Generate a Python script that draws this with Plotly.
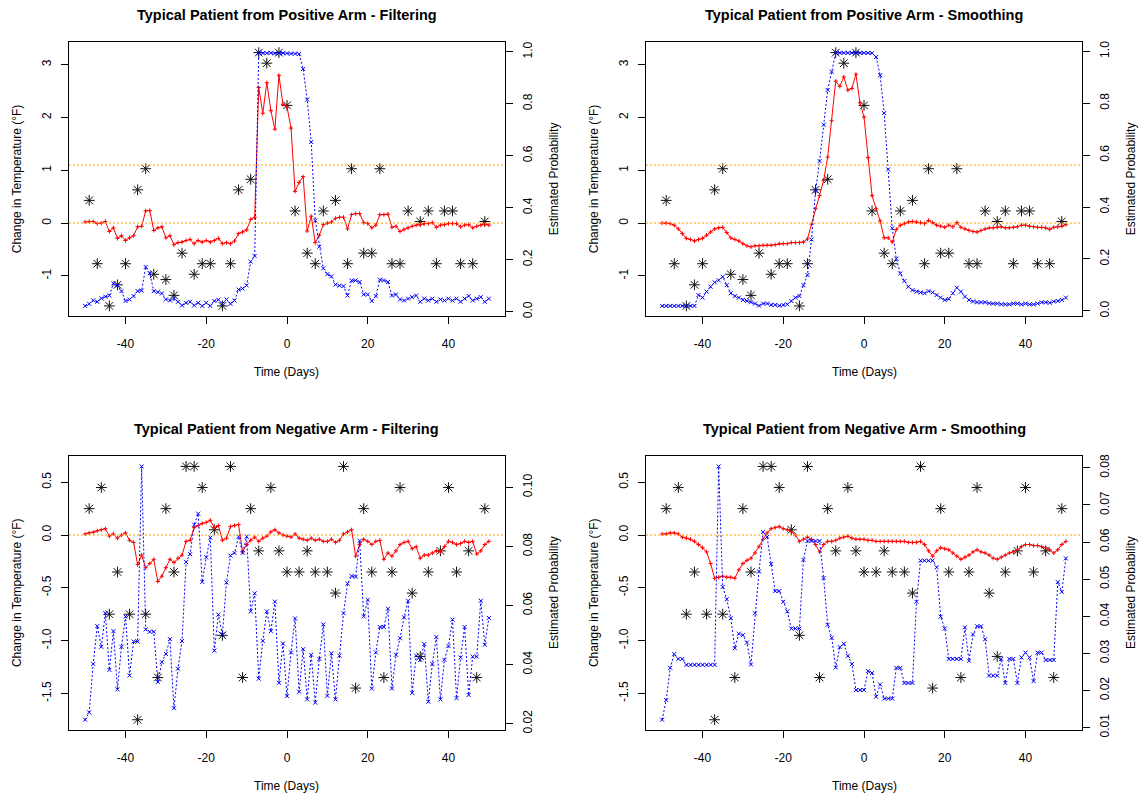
import numpy as np
import plotly.graph_objects as go
from plotly.subplots import make_subplots

# ---------------- data ----------------
days = np.arange(-50, 51)

pos_obs_days = [-49, -47, -44, -42, -40, -37, -35, -33, -30, -28, -26, -23, -21, -19, -16, -14,
                -12, -9, -7, -5, -2, 0, 2, 5, 7, 9, 12, 15, 16, 19, 21, 23, 26, 28, 30, 33,
                35, 37, 39, 41, 43, 46, 49]
pos_obs_temp = [0.43, -0.77, -1.57, -1.17, -0.77, 0.63, 1.03, -0.97, -1.07, -1.37, -0.57, -0.97,
                -0.77, -0.77, -1.57, -0.77, 0.63, 0.83, 3.23, 3.03, 3.23, 2.23, 0.23, -0.57,
                -0.77, 0.23, 0.43, -0.77, 1.03, -0.57, -0.57, 1.03, -0.77, -0.77, 0.23, 0.03,
                0.23, -0.77, 0.23, 0.23, -0.77, -0.77, 0.03]

neg_obs_days = [-49, -46, -44, -42, -39, -37, -35, -32, -30, -28, -25, -23, -21, -18, -16, -14,
                -11, -9, -7, -4, -2, 0, 3, 5, 7, 10, 12, 14, 17, 19, 21, 24, 26, 28, 31, 33,
                35, 38, 40, 42, 45, 47, 49]
neg_obs_temp = [0.25, 0.45, -0.75, -0.35, -0.75, -1.75, -0.75, -1.35, 0.25, -0.35, 0.65, 0.65,
                0.45, 0.05, -0.95, 0.65, -1.35, 0.25, -0.15, 0.45, -0.15, -0.35, -0.35, -0.15,
                -0.35, -0.35, -0.55, 0.65, -1.45, 0.25, -0.35, -1.35, -0.35, 0.45, -0.55, -1.15,
                -0.35, -0.15, 0.45, -0.35, -0.15, -1.35, 0.25]

pos_filter_temp = [0.02, 0.03, 0.03, -0.01, 0.00, 0.03, -0.16, -0.09, -0.29, -0.24,
                   -0.33, -0.28, -0.24, -0.07, -0.06, 0.23, 0.24, -0.14, -0.09, -0.07,
                   -0.28, -0.24, -0.41, -0.37, -0.36, -0.33, -0.31, -0.39, -0.33, -0.36,
                   -0.33, -0.36, -0.33, -0.29, -0.39, -0.37, -0.39, -0.34, -0.20, -0.17,
                   -0.13, 0.07, 0.11, 2.57, 2.08, 2.66, 2.13, 1.78, 2.80, 2.25,
                   2.20, 1.80, 0.60, 0.77, 0.88, -0.15, 0.13, -0.37, -0.23, -0.03,
                   0.00, 0.02, 0.09, 0.11, 0.11, -0.11, 0.16, 0.18, 0.18, 0.01,
                   -0.01, -0.09, -0.04, 0.16, 0.16, 0.17, -0.08, -0.06, -0.16, -0.12,
                   -0.09, -0.06, -0.04, -0.03, -0.01, -0.01, 0.01, -0.08, -0.04, -0.03,
                   -0.01, -0.01, -0.01, -0.07, -0.04, -0.03, -0.09, -0.06, -0.04, -0.02,
                   -0.04]
pos_filter_prob = [0.022, 0.030, 0.043, 0.038, 0.051, 0.058, 0.062, 0.109, 0.101, 0.079,
                   0.041, 0.047, 0.060, 0.079, 0.081, 0.172, 0.148, 0.079, 0.075, 0.070,
                   0.047, 0.043, 0.051, 0.038, 0.024, 0.034, 0.038, 0.024, 0.034, 0.022,
                   0.034, 0.022, 0.041, 0.046, 0.030, 0.047, 0.030, 0.043, 0.085, 0.089,
                   0.101, 0.193, 0.214, 0.997, 0.995, 0.995, 0.996, 0.994, 0.995, 0.995,
                   0.994, 0.993, 0.993, 0.992, 0.934, 0.816, 0.653, 0.351, 0.250, 0.167,
                   0.144, 0.136, 0.104, 0.100, 0.098, 0.062, 0.120, 0.120, 0.114, 0.066,
                   0.066, 0.041, 0.060, 0.123, 0.120, 0.114, 0.062, 0.066, 0.047, 0.043,
                   0.050, 0.056, 0.062, 0.038, 0.050, 0.043, 0.050, 0.038, 0.047, 0.043,
                   0.050, 0.043, 0.050, 0.038, 0.050, 0.060, 0.043, 0.050, 0.056, 0.038,
                   0.050]

pos_smooth_temp = [0.00, 0.00, -0.01, -0.04, -0.11, -0.20, -0.29, -0.31, -0.34, -0.31,
                   -0.29, -0.23, -0.17, -0.11, -0.09, -0.08, -0.18, -0.28, -0.31, -0.34,
                   -0.39, -0.43, -0.45, -0.43, -0.43, -0.42, -0.42, -0.42, -0.41, -0.39,
                   -0.39, -0.39, -0.37, -0.37, -0.37, -0.36, -0.30, -0.02, 0.27, 0.52,
                   0.81, 1.25, 1.94, 2.69, 2.59, 2.77, 2.52, 2.55, 2.82, 2.28,
                   2.01, 1.24, 0.52, 0.27, 0.04, -0.28, -0.28, -0.36, -0.12, -0.04,
                   -0.01, 0.02, 0.03, 0.02, 0.01, -0.01, 0.05, 0.01, -0.04, -0.06,
                   -0.08, -0.04, -0.07, 0.01, -0.08, -0.11, -0.14, -0.16, -0.17, -0.14,
                   -0.11, -0.09, -0.09, -0.08, -0.07, -0.09, -0.09, -0.08, -0.07, -0.04,
                   -0.04, -0.06, -0.07, -0.08, -0.08, -0.09, -0.12, -0.08, -0.07, -0.06,
                   -0.03]
pos_smooth_prob = [0.019, 0.019, 0.019, 0.019, 0.019, 0.019, 0.019, 0.019, 0.019, 0.061,
                   0.051, 0.074, 0.093, 0.110, 0.118, 0.131, 0.099, 0.068, 0.057, 0.051,
                   0.042, 0.038, 0.033, 0.028, 0.020, 0.028, 0.028, 0.023, 0.023, 0.020,
                   0.023, 0.025, 0.038, 0.051, 0.057, 0.099, 0.138, 0.275, 0.462, 0.577,
                   0.717, 0.851, 0.921, 0.995, 0.994, 0.994, 0.994, 0.994, 0.994, 0.994,
                   0.994, 0.994, 0.993, 0.978, 0.908, 0.762, 0.545, 0.318, 0.201, 0.144,
                   0.115, 0.093, 0.080, 0.074, 0.071, 0.068, 0.076, 0.071, 0.061, 0.051,
                   0.042, 0.046, 0.068, 0.089, 0.074, 0.055, 0.042, 0.036, 0.033, 0.033,
                   0.033, 0.029, 0.028, 0.028, 0.025, 0.025, 0.025, 0.028, 0.028, 0.025,
                   0.028, 0.025, 0.025, 0.028, 0.033, 0.033, 0.031, 0.036, 0.038, 0.042,
                   0.051]

neg_filter_temp = [0.01, 0.02, 0.025, 0.04, 0.05, 0.06, -0.01, 0.01, -0.03, 0.00,
                   0.02, -0.05, -0.07, -0.28, -0.19, -0.31, -0.27, -0.23, -0.44, -0.39,
                   -0.31, -0.23, -0.26, -0.22, -0.19, -0.06, -0.05, 0.07, 0.09, 0.11,
                   0.12, 0.14, 0.07, 0.09, -0.05, -0.03, 0.08, 0.09, 0.10, -0.16,
                   -0.09, -0.05, -0.02, -0.06, -0.03, -0.01, 0.03, 0.05, 0.02, 0.00,
                   -0.01, -0.02, 0.01, -0.03, -0.04, -0.05, -0.03, -0.05, -0.04, -0.06,
                   -0.06, -0.04, -0.07, -0.05, 0.01, 0.03, 0.05, -0.20, -0.09, -0.04,
                   -0.06, -0.09, -0.06, -0.05, -0.23, -0.17, -0.20, -0.15, -0.09, -0.07,
                   -0.06, -0.13, -0.11, -0.22, -0.19, -0.19, -0.17, -0.15, -0.16, -0.11,
                   -0.06, -0.07, -0.09, -0.08, -0.06, -0.07, -0.06, -0.18, -0.15, -0.09,
                   -0.06]
neg_filter_prob = [0.0213, 0.0238, 0.0402, 0.0530, 0.0460, 0.0574, 0.0382, 0.0513, 0.0316, 0.0460,
                   0.0563, 0.0363, 0.0478, 0.0478, 0.1071, 0.0519, 0.0511, 0.0511, 0.0341, 0.0408,
                   0.0436, 0.0486, 0.0252, 0.0386, 0.0480, 0.0747, 0.0774, 0.0874, 0.0911, 0.0680,
                   0.0763, 0.0830, 0.0447, 0.0569, 0.0502, 0.0678, 0.0769, 0.0778, 0.0833, 0.0778,
                   0.0833, 0.0580, 0.0641, 0.0352, 0.0480, 0.0580, 0.0513, 0.0613, 0.0338, 0.0471,
                   0.0293, 0.0441, 0.0556, 0.0308, 0.0452, 0.0282, 0.0433, 0.0271, 0.0419, 0.0536,
                   0.0294, 0.0438, 0.0282, 0.0430, 0.0574, 0.0674, 0.0700, 0.0697, 0.0819, 0.0563,
                   0.0619, 0.0319, 0.0441, 0.0527, 0.0527, 0.0589, 0.0319, 0.0433, 0.0489, 0.0560,
                   0.0616, 0.0304, 0.0430, 0.0416, 0.0469, 0.0274, 0.0402, 0.0493, 0.0282, 0.0416,
                   0.0463, 0.0552, 0.0286, 0.0424, 0.0527, 0.0297, 0.0427, 0.0427, 0.0616, 0.0467,
                   0.0558]

neg_smooth_temp = [0.01, 0.01, 0.02, 0.02, 0.01, -0.02, -0.03, -0.04, -0.06, -0.09,
                   -0.12, -0.16, -0.27, -0.41, -0.40, -0.39, -0.40, -0.40, -0.41, -0.33,
                   -0.27, -0.24, -0.22, -0.17, -0.11, -0.04, 0.02, 0.06, 0.07, 0.08,
                   0.06, 0.05, 0.03, 0.00, -0.06, -0.04, -0.02, -0.04, -0.09, -0.16,
                   -0.09, -0.06, -0.06, -0.05, -0.03, -0.02, -0.01, -0.03, -0.04, -0.04,
                   -0.04, -0.05, -0.05, -0.06, -0.06, -0.06, -0.06, -0.06, -0.06, -0.06,
                   -0.06, -0.07, -0.07, -0.07, -0.06, -0.09, -0.15, -0.20, -0.15, -0.12,
                   -0.13, -0.14, -0.17, -0.20, -0.23, -0.21, -0.19, -0.16, -0.14, -0.16,
                   -0.17, -0.19, -0.22, -0.23, -0.21, -0.19, -0.17, -0.16, -0.14, -0.11,
                   -0.09, -0.09, -0.10, -0.10, -0.11, -0.12, -0.14, -0.17, -0.14, -0.09,
                   -0.06]
neg_smooth_prob = [0.0121, 0.0174, 0.0261, 0.0298, 0.0285, 0.0285, 0.0269, 0.0269, 0.0269, 0.0269,
                   0.0269, 0.0269, 0.0269, 0.0269, 0.0804, 0.0479, 0.0446, 0.0395, 0.0314, 0.0353,
                   0.0349, 0.0329, 0.0270, 0.0408, 0.0521, 0.0627, 0.0614, 0.0541, 0.0468, 0.0468,
                   0.0439, 0.0413, 0.0367, 0.0367, 0.0367, 0.0552, 0.0603, 0.0603, 0.0603, 0.0603,
                   0.0503, 0.0377, 0.0342, 0.0262, 0.0317, 0.0326, 0.0293, 0.0271, 0.0201, 0.0201,
                   0.0201, 0.0252, 0.0247, 0.0183, 0.0216, 0.0178, 0.0178, 0.0178, 0.0261, 0.0261,
                   0.0220, 0.0220, 0.0220, 0.0439, 0.0550, 0.0550, 0.0550, 0.0550, 0.0532, 0.0399,
                   0.0367, 0.0285, 0.0285, 0.0285, 0.0285, 0.0370, 0.0280, 0.0351, 0.0373, 0.0373,
                   0.0338, 0.0240, 0.0240, 0.0240, 0.0285, 0.0220, 0.0285, 0.0285, 0.0220, 0.0289,
                   0.0302, 0.0289, 0.0225, 0.0302, 0.0302, 0.0282, 0.0282, 0.0282, 0.0492, 0.0466,
                   0.0556]

pos_thresholds = [0.0, 1.1]
neg_thresholds = [0.0]

day_ticks = [-40, -20, 0, 20, 40]
pos_temp_ticks = [-1, 0, 1, 2, 3]
neg_temp_ticks = [-1.5, -1.0, -0.5, 0.0, 0.5]
pos_prob_ticks = [0.0, 0.2, 0.4, 0.6, 0.8, 1.0]
neg_filter_prob_ticks = [0.02, 0.04, 0.06, 0.08, 0.10]
neg_smooth_prob_ticks = [0.01, 0.02, 0.03, 0.04, 0.05, 0.06, 0.07, 0.08]

titles = ["Typical Patient from Positive Arm - Filtering",
          "Typical Patient from Positive Arm - Smoothing",
          "Typical Patient from Negative Arm - Filtering",
          "Typical Patient from Negative Arm - Smoothing"]
x_label = "Time (Days)"
y_label = "Change in Temperature (\u00b0F)"
y2_label = "Estimated Probability"

# ---------------- figure ----------------
W, H = 1143, 807
FONT = "Liberation Sans, Arial, sans-serif"

fig = make_subplots(rows=2, cols=2,
                    specs=[[{"secondary_y": True}, {"secondary_y": True}],
                           [{"secondary_y": True}, {"secondary_y": True}]])

# plot-area pixel boxes (left, right) and (top, bottom)
col_px = {1: (69, 505), 2: (646, 1082)}
row_px = {1: (41, 318), 2: (460, 737)}


def r_range(*arrs):
    vals = np.concatenate([np.asarray(a, dtype=float) for a in arrs])
    lo, hi = vals.min(), vals.max()
    pad = 0.04 * (hi - lo)
    return [lo - pad, hi + pad]


def fmt(vals, nd):
    return [f"{v:.{nd}f}" for v in vals]


panels = [
    (1, 1, titles[0], pos_obs_days, pos_obs_temp, pos_filter_temp, pos_filter_prob,
     pos_thresholds, pos_temp_ticks, 0, pos_prob_ticks, 1),
    (1, 2, titles[1], pos_obs_days, pos_obs_temp, pos_smooth_temp, pos_smooth_prob,
     pos_thresholds, pos_temp_ticks, 0, pos_prob_ticks, 1),
    (2, 1, titles[2], neg_obs_days, neg_obs_temp, neg_filter_temp, neg_filter_prob,
     neg_thresholds, neg_temp_ticks, 1, neg_filter_prob_ticks, 2),
    (2, 2, titles[3], neg_obs_days, neg_obs_temp, neg_smooth_temp, neg_smooth_prob,
     neg_thresholds, neg_temp_ticks, 1, neg_smooth_prob_ticks, 2),
]

annotations = []
tickfont = dict(family=FONT, size=12, color="black")

for (r, c, title, od, ot, temp, prob, thr, tticks, tnd, pticks, pnd) in panels:
    # observations
    fig.add_trace(go.Scatter(x=od, y=ot, mode="markers",
                             marker=dict(symbol="asterisk-open", size=9, color="#111111",
                                         line=dict(color="#111111", width=1)),
                             showlegend=False, hoverinfo="skip"),
                  row=r, col=c, secondary_y=False)
    # estimated temperature
    fig.add_trace(go.Scatter(x=days, y=temp, mode="lines+markers",
                             line=dict(color="red", width=1),
                             marker=dict(symbol="cross-thin-open", size=3, color="red",
                                         line=dict(color="red", width=1)),
                             showlegend=False, hoverinfo="skip"),
                  row=r, col=c, secondary_y=False)
    # probability
    fig.add_trace(go.Scatter(x=days, y=prob, mode="lines+markers",
                             line=dict(color="blue", width=1, dash="2px,2px"),
                             marker=dict(symbol="x-thin-open", size=4, color="blue",
                                         line=dict(color="blue", width=1)),
                             showlegend=False, hoverinfo="skip"),
                  row=r, col=c, secondary_y=True)
    for t in thr:
        fig.add_hline(y=t, row=r, col=c, secondary_y=False,
                      line=dict(color="orange", width=1, dash="2px,2px"))

    x0, x1 = col_px[c]
    y0, y1 = row_px[r]
    xdom = [x0 / W, x1 / W]
    ydom = [1 - y1 / H, 1 - y0 / H]

    fig.update_xaxes(row=r, col=c, domain=xdom, range=[-54, 54],
                     tickvals=day_ticks, ticktext=[str(v) for v in day_ticks],
                     ticks="outside", ticklen=7, tickwidth=1, tickcolor="black",
                     ticklabelstandoff=10,
                     showline=True, mirror=True, linecolor="black", linewidth=1,
                     showgrid=False, zeroline=False, tickfont=tickfont)
    fig.update_yaxes(row=r, col=c, secondary_y=False, domain=ydom,
                     range=r_range(ot, temp),
                     tickvals=tticks, ticktext=fmt(tticks, tnd), tickangle=-90,
                     ticks="outside", ticklen=7, tickwidth=1, tickcolor="black",
                     ticklabelstandoff=5,
                     showline=True, mirror=True, linecolor="black", linewidth=1,
                     showgrid=False, zeroline=False, tickfont=tickfont)
    fig.update_yaxes(row=r, col=c, secondary_y=True,
                     range=r_range(prob),
                     tickvals=pticks, ticktext=fmt(pticks, pnd), tickangle=-90,
                     ticks="outside", ticklen=7, tickwidth=1, tickcolor="black",
                     ticklabelstandoff=5,
                     showline=True, linecolor="black", linewidth=1,
                     showgrid=False, zeroline=False, tickfont=tickfont)

    xc = (x0 + x1) / 2
    yc = (y0 + y1) / 2
    common = dict(xref="paper", yref="paper", showarrow=False,
                  xanchor="center", yanchor="middle")
    annotations.append(dict(text=f"<b>{title}</b>", x=xc / W, y=1 - (y0 - 28) / H,
                            font=dict(family=FONT, size=14.5, color="black"), **common))
    annotations.append(dict(text=x_label, x=xc / W, y=1 - (y1 + 57) / H,
                            font=dict(family=FONT, size=12, color="black"), **common))
    annotations.append(dict(text=y_label, x=(x0 - 52) / W, y=1 - yc / H, textangle=-90,
                            font=dict(family=FONT, size=12, color="black"), **common))
    annotations.append(dict(text=y2_label, x=(x1 + 49) / W, y=1 - yc / H, textangle=-90,
                            font=dict(family=FONT, size=12, color="black"), **common))

fig.update_layout(width=W, height=H, margin=dict(l=0, r=0, t=0, b=0),
                  paper_bgcolor="white", plot_bgcolor="white",
                  showlegend=False, annotations=annotations,
                  font=dict(family=FONT, size=12, color="black"))

fig.write_html("out.html")
